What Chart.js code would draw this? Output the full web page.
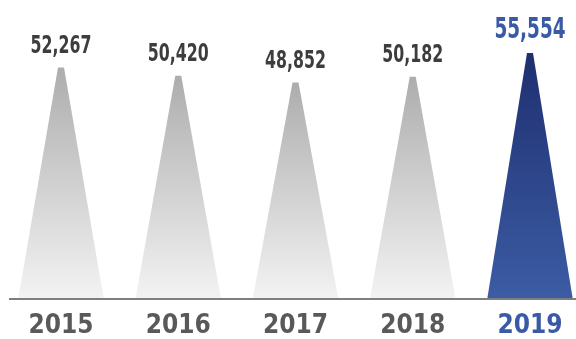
<!DOCTYPE html>
<html>
<head>
<meta charset="utf-8">
<script src="https://cdn.jsdelivr.net/npm/chart.js@4.4.0/dist/chart.umd.min.js"></script>
<style>
  html, body { margin: 0; padding: 0; background: #fff; }
  #wrap { width: 576px; height: 339px; }
</style>
</head>
<body>
<div id="wrap"><canvas id="myChart"></canvas></div>
<script>
// dados do grafico
const years = ['2015', '2016', '2017', '2018', '2019'];
const totals = [52267, 50420, 48852, 50182, 55554];
const highlight = [false, false, false, false, true];

const fontFam = '"DejaVu Sans Condensed", "DejaVu Sans", sans-serif';

// desenha os "picos" (trapezios) usando a posicao de cada barra
const peakPlugin = {
  id: 'peaks',
  afterDatasetsDraw(chart) {
    const ctx = chart.ctx;
    const meta = chart.getDatasetMeta(0);
    const yScale = chart.scales.y;
    const base = yScale.getPixelForValue(0);

    // linha de base
    ctx.save();
    ctx.strokeStyle = '#555';
    ctx.lineWidth = 1.5;
    ctx.beginPath();
    ctx.moveTo(9, base);
    ctx.lineTo(chart.width, base);
    ctx.stroke();
    ctx.restore();

    meta.data.forEach((bar, i) => {
      const half = bar.width / 2;
      const top = bar.y;
      const g = ctx.createLinearGradient(0, top, 0, base);
      if (highlight[i]) {
        g.addColorStop(0, '#1f2f70');
        g.addColorStop(1, '#3c5ca4');
      } else {
        g.addColorStop(0, '#adadad');
        g.addColorStop(1, '#f3f3f3');
      }
      ctx.save();
      ctx.fillStyle = g;
      ctx.beginPath();
      ctx.moveTo(bar.x - 3, top);
      ctx.lineTo(bar.x + 3, top);
      ctx.lineTo(bar.x + half, base - 1);
      ctx.lineTo(bar.x - half, base - 1);
      ctx.closePath();
      ctx.fill();

      // rotulo do valor (fonte estreita, apertada na horizontal)
      ctx.fillStyle = highlight[i] ? '#3a5aa6' : '#3d3d3d';
      ctx.font = 'bold ' + (highlight[i] ? 28 : 24) + 'px ' + fontFam;
      ctx.textAlign = 'center';
      ctx.textBaseline = 'alphabetic';
      ctx.translate(bar.x, top - 14.5);
      ctx.scale(0.73, 1);
      ctx.fillText(totals[i].toLocaleString('en-US'), 0, 0);
      ctx.restore();
    });
  }
};

const ctx = document.getElementById('myChart').getContext('2d');
const chart = new Chart(ctx, {
  type: 'bar',
  data: {
    labels: years,
    datasets: [{
      data: totals,
      backgroundColor: 'rgba(0,0,0,0)',
      borderWidth: 0,
      barPercentage: 1,
      categoryPercentage: 0.727
    }]
  },
  options: {
    responsive: true,
    maintainAspectRatio: false,
    animation: false,
    layout: { padding: { left: 61, right: 46, top: 0, bottom: -14 } },
    plugins: { legend: { display: false }, tooltip: { enabled: false } },
    scales: {
      x: {
        offset: false,
        grid: { display: false, drawTicks: false },
        border: { display: false },
        ticks: {
          padding: 11,
          color: (c) => highlight[c.index] ? '#3a5aa6' : '#595959',
          font: { family: fontFam, size: 26, weight: 'bold', lineHeight: 1.23 }
        }
      },
      y: {
        display: false,
        min: 0,
        max: 67500
      }
    }
  },
  plugins: [peakPlugin]
});
</script>
</body>
</html>
